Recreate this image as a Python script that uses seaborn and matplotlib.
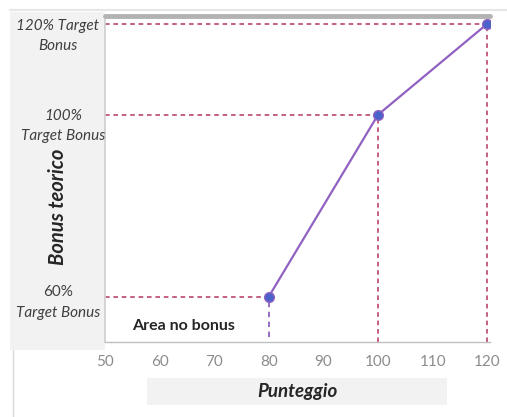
import matplotlib
matplotlib.use("Agg")
import matplotlib.pyplot as plt
import seaborn as sns
import pandas as pd
from matplotlib.patches import Rectangle

# Data
punteggio = [80, 100, 120]
bonus = [60, 100, 120]
first_lines = ["60%", "100%", "120% Target"]
second_lines = ["Target Bonus", "Target Bonus", "Bonus"]
x_ticks = [50, 60, 70, 80, 90, 100, 110, 120]

df = pd.DataFrame({"Punteggio": punteggio, "Bonus": bonus})

sns.set_theme(style="white")
plt.rcParams["font.family"] = ["Lato", "DejaVu Sans"]

W, H = 507, 417
fig = plt.figure(figsize=(W / 100, H / 100), dpi=100)
fig.patch.set_facecolor("white")

def fx(px):
    return px / W

def fy(py):
    return 1 - py / H

# Left label panel and x-label band
fig.patches.append(Rectangle((fx(10), fy(350)), fx(105) - fx(10), fy(12) - fy(350),
                             transform=fig.transFigure, facecolor="#f2f2f2",
                             edgecolor="none", zorder=-2))
fig.patches.append(Rectangle((fx(147), fy(405)), fx(447) - fx(147), fy(378) - fy(405),
                             transform=fig.transFigure, facecolor="#f2f2f2",
                             edgecolor="none", zorder=-2))
# Thin frame lines
fig.add_artist(plt.Line2D([fx(10), 1], [fy(10), fy(10)], transform=fig.transFigure,
                          color="#e6e6e6", lw=1.5, zorder=-1))
fig.add_artist(plt.Line2D([fx(13), fx(13)], [fy(350), 0], transform=fig.transFigure,
                          color="#d9d9d9", lw=1, zorder=-1))

ax = fig.add_axes([fx(105), fy(342), fx(490) - fx(105), fy(17) - fy(342)])
ax.set_facecolor("white")
ax.set_xlim(50, 120.5)
ax.set_ylim(50, 121.5)

red = "#b5365e"
purple = "#9061c2"

# Guide lines
for xv, yv in zip(punteggio, bonus):
    ax.plot([50, xv], [yv, yv], ls=(0, (3, 2.5)), color=red, lw=1.1, zorder=1)
for xv, yv in zip(punteggio[1:], bonus[1:]):
    ax.plot([xv, xv], [50, yv], ls=(0, (3, 2.5)), color=red, lw=1.1, zorder=1)
ax.plot([punteggio[0], punteggio[0]], [51, bonus[0]], ls=(0, (3, 2.5)),
        color=purple, lw=1.3, zorder=1)

sns.lineplot(data=df, x="Punteggio", y="Bonus", ax=ax, color=purple, lw=1.6,
             marker="o", markersize=7, markerfacecolor="#4a62c9",
             markeredgecolor=purple, markeredgewidth=1, zorder=3)

ax.set_xticks(x_ticks)
ax.set_xticklabels([str(t) for t in x_ticks], color="#8c8c8c", fontsize=11)
ax.set_yticks([])
ax.tick_params(axis="x", length=0, pad=9)
ax.set_xlabel("")
ax.set_ylabel("")
for s in ["top", "right"]:
    ax.spines[s].set_visible(False)
ax.spines["left"].set_color("#d0d0d0")
ax.spines["bottom"].set_color("#bfbfbf")
ax.spines["bottom"].set_linewidth(1)

# Gray bar along the top
fig.add_artist(plt.Line2D([fx(105), fx(490)], [fy(16), fy(16)], transform=fig.transFigure,
                          color="#b3b3b3", lw=3.5))

ax.text(54.9, 53.5, "Area no bonus", fontsize=11.5, fontweight="bold", color="#262626",
        ha="left", va="center")

# Y category labels
label_x = [fx(58), fx(63), fx(58)]
first_style = ["normal", "italic", "italic"]
first_dy = [3, -1, -1.5]
for lx, yv, l1, l2, st, dy in zip(label_x, bonus, first_lines, second_lines, first_style, first_dy):
    ax.annotate(l1, xy=(lx, yv), xycoords=("figure fraction", "data"),
                xytext=(0, dy), textcoords="offset points", ha="center", va="center",
                fontsize=11, style=st, color="#404040", annotation_clip=False)
    ax.annotate(l2, xy=(lx, yv), xycoords=("figure fraction", "data"),
                xytext=(0, dy - 14.5), textcoords="offset points", ha="center", va="center",
                fontsize=11, style="italic", color="#404040", annotation_clip=False)

fig.text(fx(58), fy(207), "Bonus teorico", rotation=90, ha="center", va="center",
         fontsize=14.5, fontweight="bold", style="italic", color="#262626")
fig.text(fx(297), fy(391), "Punteggio", ha="center", va="center",
         fontsize=13.5, fontweight="bold", style="italic", color="#262626")

fig.savefig("out.png", dpi=100, facecolor="white")
